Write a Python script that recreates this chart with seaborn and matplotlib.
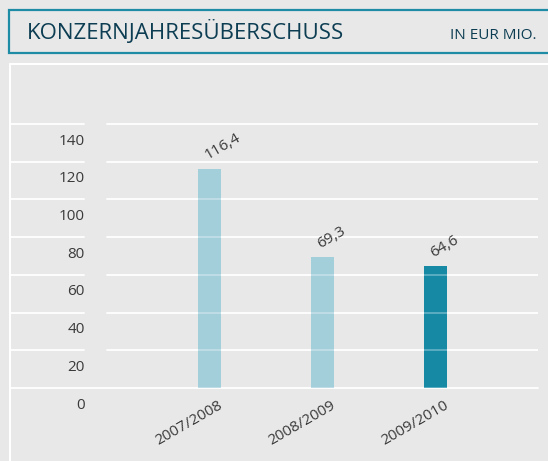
"""
Konzernjahresüberschuss (in EUR Mio.) - Balkendiagramm mit seaborn
"""

import matplotlib
matplotlib.use("Agg")
import matplotlib.pyplot as plt
import matplotlib.transforms as mtransforms
from matplotlib.patches import Rectangle
from matplotlib.lines import Line2D
import seaborn as sns

# Daten
years = ["2007/2008", "2008/2009", "2009/2010"]
values = [116.4, 69.3, 64.6]
bar_colors = ["#a3cfdb", "#a3cfdb", "#168aa5"]
yticks = [0, 20, 40, 60, 80, 100, 120, 140]

title = "KONZERNJAHRESÜBERSCHUSS"
unit = "IN EUR MIO."

# Farben / Stil
BG = "#e8e8e8"
TEAL = "#1f8ca6"
TITLE_COLOR = "#0c3d52"
TEXT_COLOR = "#3a3a3a"

sns.set_theme(style="white", rc={
    "axes.facecolor": BG,
    "figure.facecolor": BG,
})
plt.rcParams["font.family"] = ["Open Sans", "DejaVu Sans"]

W, H = 548, 461
fig = plt.figure(figsize=(W / 100, H / 100), dpi=100)

# Plotbereich in Pixeln
left_px, right_px = 11, 538
top_px, zero_px = 65, 388
ax = fig.add_axes([left_px / W, (H - zero_px) / H,
                   (right_px - left_px) / W, (zero_px - top_px) / H])

px_per_unit = (388 - 124) / 140
ax.set_ylim(0, (zero_px - top_px) / px_per_unit)

sns.barplot(x=years, y=values, hue=years, palette=bar_colors, legend=False,
            width=0.2035, saturation=1, linewidth=0, edgecolor="none",
            ax=ax, zorder=2)

step = 113
ax.set_xlim(-(209.5 - left_px) / step, 2 + (right_px - 435.5) / step)

# Gitterlinien (mit Lücke neben den Achsenbeschriftungen)
gap_a = (84 - left_px) / (right_px - left_px)
gap_b = (107 - left_px) / (right_px - left_px)
for t in yticks:
    if t == 0:
        ax.axhline(t, color="white", lw=1.2, zorder=1, clip_on=False)
        ax.axhline(t, color="white", lw=1.2, alpha=0.35, zorder=3, clip_on=False)
    else:
        for a, b in [(0, gap_a), (gap_b, 1)]:
            ax.axhline(t, xmin=a, xmax=b, color="white", lw=1.2, zorder=1)
            ax.axhline(t, xmin=a, xmax=b, color="white", lw=1.2, alpha=0.35, zorder=3)

# Y-Beschriftungen unterhalb der Linien
ylab_trans = mtransforms.offset_copy(ax.get_yaxis_transform(), fig=fig,
                                     y=-20.5, units="dots")
for t in yticks:
    ax.text((85 - left_px) / (right_px - left_px), t, str(t), ha="right",
            va="baseline", fontsize=11, color=TEXT_COLOR, transform=ylab_trans)
ax.set_yticks([])
ax.set_ylabel("")

# X-Beschriftungen
ax.set_xticks(range(len(years)))
ax.set_xticklabels(years, rotation=30, ha="right", rotation_mode="anchor",
                   fontsize=11, color=TEXT_COLOR)
ax.tick_params(axis="x", length=0, pad=7)
shift = mtransforms.ScaledTranslation(8 / 100, 0, fig.dpi_scale_trans)
for lab in ax.get_xticklabels():
    lab.set_transform(lab.get_transform() + shift)

# Wertebeschriftungen
val_trans = mtransforms.offset_copy(ax.transData, fig=fig, x=-2, y=9, units="dots")
for i, v in enumerate(values):
    ax.text(i, v, f"{v:.1f}".replace(".", ","), rotation=30, ha="left",
            va="baseline", rotation_mode="anchor", fontsize=11,
            color=TEXT_COLOR, transform=val_trans)

for s in ax.spines.values():
    s.set_visible(False)

# Kopfzeile
fig.add_artist(Rectangle((9 / W, (H - 53) / H), (W + 20) / W, 43 / H,
                         transform=fig.transFigure, facecolor=BG,
                         edgecolor=TEAL, lw=1.6, clip_on=False))
fig.text(27 / W, (H - 39) / H, title, ha="left", va="baseline",
         fontsize=16, color=TITLE_COLOR)
fig.text(536 / W, (H - 39) / H, unit, ha="right", va="baseline",
         fontsize=11, color=TITLE_COLOR)

# Rahmen des Diagrammfelds
fig.add_artist(Line2D([10 / W, 1], [(H - 64) / H] * 2, color="white",
                      lw=1.5, transform=fig.transFigure))
fig.add_artist(Line2D([10 / W] * 2, [0, (H - 64) / H], color="white",
                      lw=1.5, transform=fig.transFigure))

fig.savefig("out.png", dpi=100, facecolor=BG)
